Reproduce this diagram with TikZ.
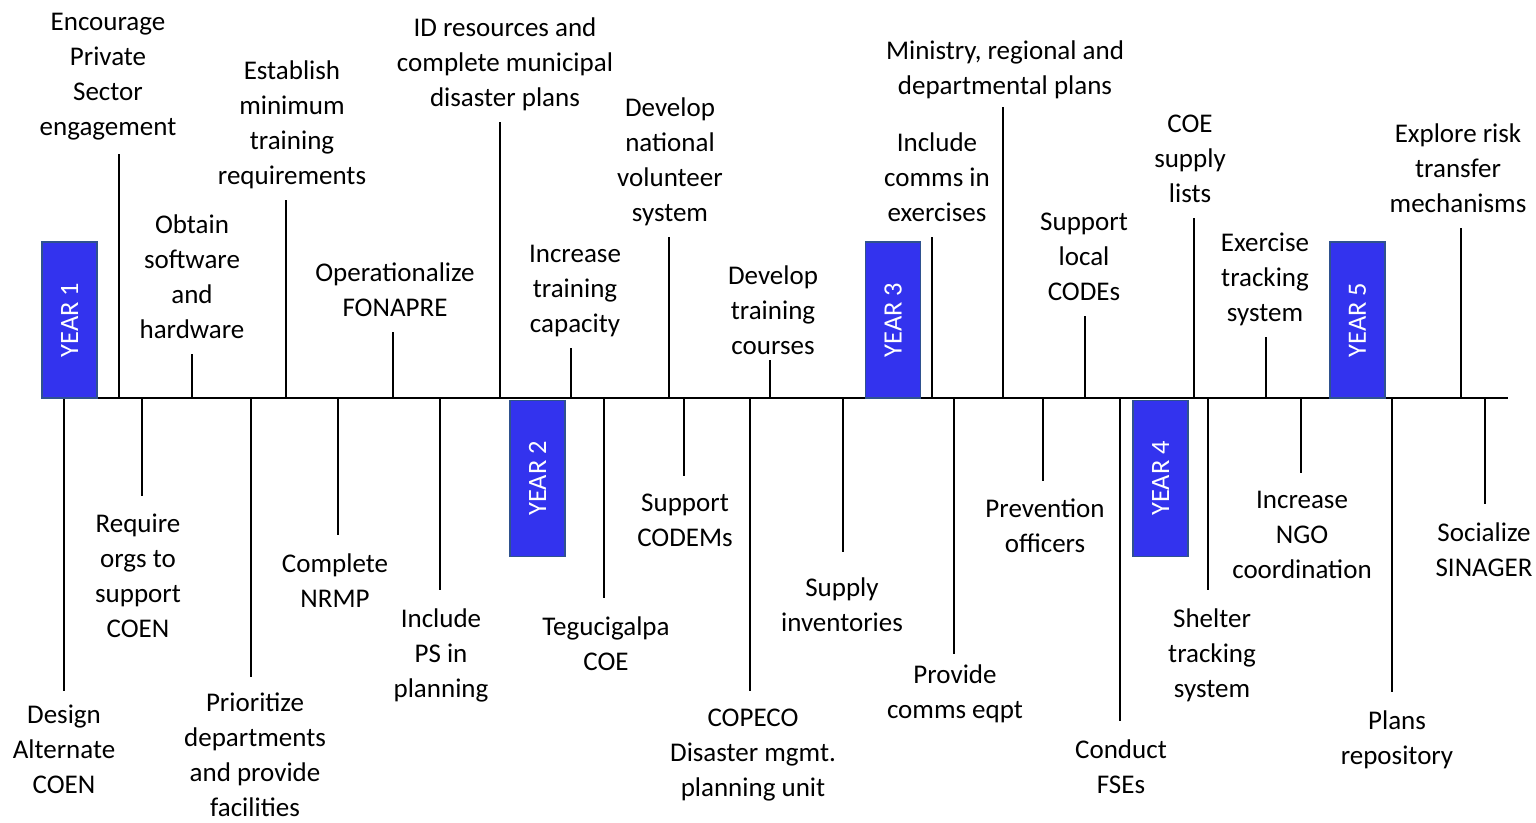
\documentclass[tikz,border=0pt]{standalone}
\usepackage{fontspec}
\setmainfont{Carlito}

\definecolor{yearblue}{RGB}{51,51,238}
\definecolor{yearedge}{RGB}{47,82,143}

\begin{document}
\begin{tikzpicture}[
    x=0.025cm, y=-0.025cm,
    item/.style={align=center, inner xsep=0pt,
                 font=\fontsize{19.2}{24.9}\selectfont,
                 execute at begin node=\strut, execute at end node=\strut},
    upitem/.style={item, anchor=south, inner ysep=3.5pt},
    downitem/.style={item, anchor=north, inner ysep=12.8pt},
    yearbox/.style={rectangle, draw=yearedge, line width=0.8pt, fill=yearblue,
                    text=white, rotate=90, inner sep=0pt,
                    minimum width=3.9cm, minimum height=1.375cm,
                    font=\fontsize{18.8}{24.9}\selectfont},
    stem/.style={line width=1.5pt, draw=black},
    timeline/.style={line width=1.8pt, draw=black},
]

\useasboundingbox (0,0) rectangle (1536,822);

% Timeline
\coordinate (start) at (42,398);
\coordinate (end) at (1508,398);
\draw[timeline] (start) -- (end);

% --- Milestones above the line ---
\node[upitem, inner ysep=5.5pt] (u1) at (108,154) {Encourage\\Private\\Sector\\engagement};
\node[upitem] (u2) at (192,354) {Obtain\\software\\and\\hardware};
\node[upitem] (u3) at (292,200) {Establish\\minimum\\training\\requirements};
\node[upitem] (u4) at (395,332) {Operationalize\\FONAPRE};
\node[upitem] (u5) at (505,122) {ID resources and\\complete municipal\\disaster plans};
\node[upitem] (u6) at (575,348) {Increase\\training\\capacity};
\node[upitem] (u7) at (670,237) {Develop\\national\\volunteer\\system};
\node[upitem, inner ysep=-4pt] (u8) at (773,360) {Develop\\training\\courses};
\node[upitem] (u9) at (937,237) {Include\\comms in\\exercises};
\node[upitem, inner ysep=1.5pt] (u10) at (1005,107) {Ministry, regional and\\departmental plans};
\node[upitem] (u11) at (1084,316) {Support\\local\\CODEs};
\node[upitem] (u12) at (1190,218) {COE\\supply\\lists};
\node[upitem] (u13) at (1265,337) {Exercise\\tracking\\system};
\node[upitem] (u14) at (1458,228) {Explore risk\\transfer\\mechanisms};

\coordinate (a1) at (119,398);
\coordinate (a2) at (192,398);
\coordinate (a3) at (286,398);
\coordinate (a4) at (393,398);
\coordinate (a5) at (500,398);
\coordinate (a6) at (571,398);
\coordinate (a7) at (669,398);
\coordinate (a8) at (770,398);
\coordinate (a9) at (932,398);
\coordinate (a10) at (1003,398);
\coordinate (a11) at (1085,398);
\coordinate (a12) at (1194,398);
\coordinate (a13) at (1266,398);
\coordinate (a14) at (1461,398);

\draw[stem] (a1) -- (a1 |- u1.south);
\draw[stem] (a2) -- (a2 |- u2.south);
\draw[stem] (a3) -- (a3 |- u3.south);
\draw[stem] (a4) -- (a4 |- u4.south);
\draw[stem] (a5) -- (a5 |- u5.south);
\draw[stem] (a6) -- (a6 |- u6.south);
\draw[stem] (a7) -- (a7 |- u7.south);
\draw[stem] (a8) -- (a8 |- u8.south);
\draw[stem] (a9) -- (a9 |- u9.south);
\draw[stem] (a10) -- (a10 |- u10.south);
\draw[stem] (a11) -- (a11 |- u11.south);
\draw[stem] (a12) -- (a12 |- u12.south);
\draw[stem] (a13) -- (a13 |- u13.south);
\draw[stem] (a14) -- (a14 |- u14.south);

% --- Milestones below the line ---
\node[downitem, inner ysep=10pt] (d1) at (64,691) {Design\\Alternate\\COEN};
\node[downitem] (d2) at (138,496) {Require\\orgs to\\support\\COEN};
\node[downitem, inner ysep=11pt] (d3) at (255,677) {Prioritize\\departments\\and provide\\facilities};
\node[downitem] (d4) at (335,535) {Complete\\NRMP};
\node[downitem] (d5) at (441,590) {Include\\PS in\\planning};
\node[downitem] (d6) at (606,598) {Tegucigalpa\\COE};
\node[downitem] (d7) at (685,476) {Support\\CODEMs};
\node[downitem] (d8) at (753,691) {COPECO\\Disaster mgmt.\\planning unit};
\node[downitem, inner ysep=18pt] (d9) at (842,552) {Supply\\inventories};
\node[downitem, inner ysep=7.5pt] (d10) at (955,654) {Provide\\comms eqpt};
\node[downitem] (d11) at (1045,481) {Prevention\\officers};
\node[downitem] (d12) at (1121,721) {Conduct\\FSEs};
\node[downitem] (d13) at (1212,590) {Shelter\\tracking\\system};
\node[downitem] (d14) at (1302,473) {Increase\\NGO\\coordination};
\node[downitem] (d15) at (1397,692) {Plans\\repository};
\node[downitem] (d16) at (1484,504) {Socialize\\SINAGER};

\coordinate (b1) at (64,398);
\coordinate (b2) at (142,398);
\coordinate (b3) at (251,398);
\coordinate (b4) at (338,398);
\coordinate (b5) at (440,398);
\coordinate (b6) at (604,398);
\coordinate (b7) at (684,398);
\coordinate (b8) at (750,398);
\coordinate (b9) at (843,398);
\coordinate (b10) at (954,398);
\coordinate (b11) at (1043,398);
\coordinate (b12) at (1120,398);
\coordinate (b13) at (1208,398);
\coordinate (b14) at (1301,398);
\coordinate (b15) at (1392,398);
\coordinate (b16) at (1485,398);

\draw[stem] (b1) -- (b1 |- d1.north);
\draw[stem] (b2) -- (b2 |- d2.north);
\draw[stem] (b3) -- (b3 |- d3.north);
\draw[stem] (b4) -- (b4 |- d4.north);
\draw[stem] (b5) -- (b5 |- d5.north);
\draw[stem] (b6) -- (b6 |- d6.north);
\draw[stem] (b7) -- (b7 |- d7.north);
\draw[stem] (b8) -- (b8 |- d8.north);
\draw[stem] (b9) -- (b9 |- d9.north);
\draw[stem] (b10) -- (b10 |- d10.north);
\draw[stem] (b11) -- (b11 |- d11.north);
\draw[stem] (b12) -- (b12 |- d12.north);
\draw[stem] (b13) -- (b13 |- d13.north);
\draw[stem] (b14) -- (b14 |- d14.north);
\draw[stem] (b15) -- (b15 |- d15.north);
\draw[stem] (b16) -- (b16 |- d16.north);

% --- Year markers ---
\node[yearbox] (y1) at (69.5,320) {YEAR 1};
\node[yearbox] (y2) at (537.5,478.5) {YEAR 2};
\node[yearbox] (y3) at (893,320) {YEAR 3};
\node[yearbox] (y4) at (1160.5,478.5) {YEAR 4};
\node[yearbox] (y5) at (1357.5,320) {YEAR 5};

\end{tikzpicture}
\end{document}
